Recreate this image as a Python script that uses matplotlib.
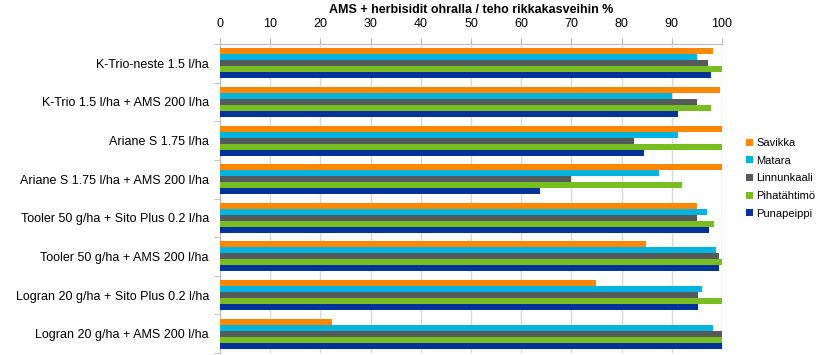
import numpy as np
import matplotlib
matplotlib.use("Agg")
import matplotlib.pyplot as plt

plt.rcParams['font.family'] = ['Liberation Sans', 'DejaVu Sans']

treatments = [
    "K-Trio-neste 1.5 l/ha",
    "K-Trio 1.5 l/ha + AMS 200 l/ha",
    "Ariane S 1.75 l/ha",
    "Ariane S 1.75 l/ha + AMS 200 l/ha",
    "Tooler 50 g/ha + Sito Plus 0.2 l/ha",
    "Tooler 50 g/ha + AMS 200 l/ha",
    "Logran 20 g/ha + Sito Plus 0.2 l/ha",
    "Logran 20 g/ha + AMS 200 l/ha",
]
species = ["Savikka", "Matara", "Linnunkaali", "Pihatähtimö", "Punapeippi"]
colors = ["#FF8800", "#00B4E0", "#555A5C", "#78BE21", "#003399"]

savikka = [98.2, 99.7, 100, 100, 95.0, 84.9, 74.9, 22.4]
matara = [95.0, 90.0, 91.3, 87.5, 97.0, 98.8, 96.0, 98.3]
linnunkaali = [97.3, 95.0, 82.4, 69.9, 95.0, 99.5, 95.2, 100]
pihatahtimo = [100, 97.9, 100, 92.0, 98.5, 100, 100, 100]
punapeippi = [97.9, 91.3, 84.5, 63.7, 97.5, 99.5, 95.2, 100]
series = [savikka, matara, linnunkaali, pihatahtimo, punapeippi]

fig = plt.figure(figsize=(8.29, 3.55), dpi=100)
ax = fig.add_axes([220 / 829, 2 / 355, 502 / 829, 309 / 355])

y = np.arange(len(treatments))
h = 0.155
for j, (name, vals, c) in enumerate(zip(species, series, colors)):
    ax.barh(y - 2 * h + j * h, vals, height=h, color=c, label=name, zorder=3)

ax.set_xlim(0, 100)
ax.set_ylim(len(treatments) - 0.5, -0.5)
ax.xaxis.tick_top()
ax.set_xticks(range(0, 101, 10))
ax.tick_params(axis='x', labelsize=9, length=4, color='#BBBBBB', pad=6)
ax.set_yticks(y)
ax.set_yticklabels(treatments, fontsize=9)
ax.set_yticks(np.arange(-0.5, len(treatments)), minor=True)
ax.tick_params(axis='y', which='major', length=0, pad=8)
ax.tick_params(axis='y', which='minor', length=4, color='#BBBBBB')
ax.grid(axis='x', color='#D9D9D9', lw=1, zorder=0)
for s in ['right', 'bottom']:
    ax.spines[s].set_visible(False)
for s in ['top', 'left']:
    ax.spines[s].set_color('#BBBBBB')

fig.text(471 / 829, 1 - 10 / 355, "AMS + herbisidit ohralla / teho rikkakasveihin %",
         ha='center', va='center', fontsize=9, fontweight='bold')

ax.legend(loc='upper left', bbox_to_anchor=(736 / 829, 1 - 128 / 355),
          bbox_transform=fig.transFigure, frameon=False, fontsize=8,
          handlelength=0.6, handleheight=0.6, handletextpad=0.3, labelspacing=0.69)

fig.savefig("out.png", dpi=100)
